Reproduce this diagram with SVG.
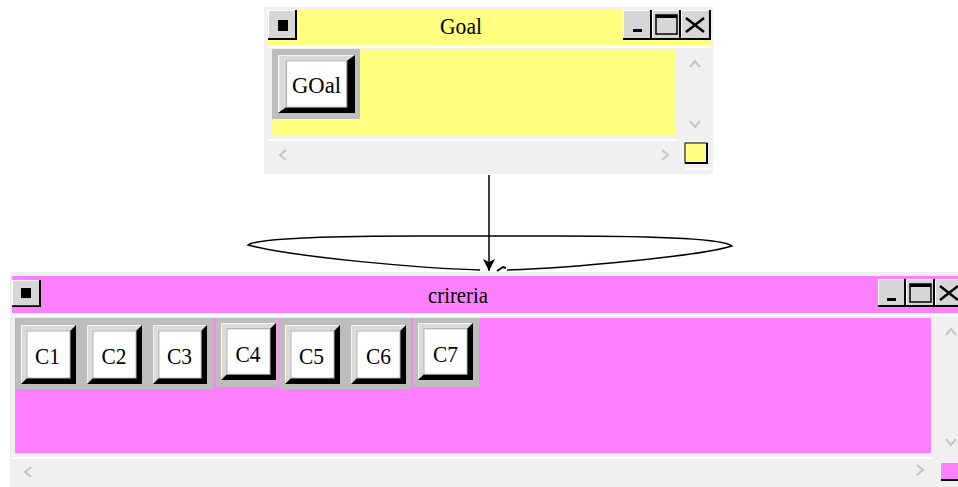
<svg xmlns="http://www.w3.org/2000/svg" xmlns:xlink="http://www.w3.org/1999/xlink" width="958" height="487" viewBox="0 0 958 487">
<style>
.win{fill:#f0f0f0}
.yel{fill:#ffff80}
.mag{fill:#ff80ff}
.sep{fill:#ffffff}
.lbl{font-family:"Liberation Serif","Times New Roman",serif;font-size:24px;fill:#000;text-anchor:middle}
.frame{fill:#bdbdbd}
.chev{fill:none;stroke:#c4c4c4;stroke-width:2}
.conn{fill:none;stroke:#000;stroke-width:1.5}
</style>
<defs>
<symbol id="btn" viewBox="0 0 55 59" preserveAspectRatio="none">
<rect x="0" y="0" width="55" height="59" fill="#000"/>
<polygon points="0,0 55,0 49,6 6,6 6,53 0,59" fill="#dadada"/>
<polyline points="0.5,58 0.5,0.5 54,0.5" fill="none" stroke="#f4f4f4" stroke-width="1"/>
<rect x="6" y="6" width="43" height="47" fill="#fff" stroke="#b4b4b4" stroke-width="1"/>
</symbol>
<symbol id="tbtn" viewBox="0 0 29 29" preserveAspectRatio="none">
<rect x="0" y="0" width="29" height="29" fill="#d6d6d6"/>
<polyline points="0.5,28 0.5,0.5 28,0.5" fill="none" stroke="#fff" stroke-width="1"/>
<polyline points="0,28 28,28 28,0" fill="none" stroke="#000" stroke-width="2"/>
</symbol>
<marker id="arr" markerWidth="14" markerHeight="14" refX="13" refY="7" orient="auto" markerUnits="userSpaceOnUse" viewBox="0 0 14 14">
<path d="M1,1 L4,7 L1,13 L13,7 Z" fill="#000"/>
</marker>
</defs>
<rect width="958" height="487" fill="#fff"/>

<g id="connectors">
<line class="conn" x1="489" y1="175" x2="489" y2="271" marker-end="url(#arr)"/>
<path class="conn" d="M480,270 C420,268 300,258 248,245 C255,240 300,236 420,236 L560,236 C680,236 725,240 732,246 C700,256 570,268 507,270"/>
<path d="M497,271 L503,267 L506,268" fill="none" stroke="#000" stroke-width="2"/>
</g>

<g id="goal">
<rect class="win" x="264" y="7" width="449" height="167"/>
<rect class="yel" x="268" y="9" width="443" height="36"/>
<use href="#tbtn" x="268" y="10" width="29" height="30"/>
<rect x="278" y="20" width="10" height="11" fill="#000"/>
<text class="lbl" x="461" y="34" textLength="42" lengthAdjust="spacingAndGlyphs">Goal</text>
<use href="#tbtn" x="623" y="10" width="29" height="30"/>
<rect x="633" y="29" width="9" height="3" fill="#000"/>
<use href="#tbtn" x="652" y="10" width="29" height="30"/>
<rect x="656" y="15" width="21" height="19" fill="none" stroke="#000" stroke-width="1.5"/>
<rect x="656" y="15" width="21" height="3" fill="#000"/>
<use href="#tbtn" x="681" y="10" width="30" height="30"/>
<path d="M686,18 L704,32 M704,18 L686,32" stroke="#000" stroke-width="2.5"/>
<rect class="sep" x="268" y="45" width="443" height="3"/>
<rect class="yel" x="272" y="49" width="404" height="87"/>
<rect class="sep" x="268" y="139" width="410" height="2"/>
<path class="chev" d="M690,67 L695,61 L700,67"/>
<path class="chev" d="M690,121 L695,127 L700,121"/>
<path class="chev" d="M286,150 L280,155 L286,160"/>
<path class="chev" d="M662,150 L668,155 L662,160"/>
<rect x="685" y="143" width="22" height="20" fill="#ffff80" stroke="#000" stroke-width="1"/>
<path d="M685,163 L707,163 L707,143" fill="none" stroke="#000" stroke-width="2"/>
<rect class="sep" x="685" y="168" width="26" height="2"/>
<g id="btn-goal">
<rect class="frame" x="272" y="49" width="88" height="70"/>
<use href="#btn" x="278" y="55" width="77" height="58"/>
<text class="lbl" x="316.5" y="93" textLength="49" lengthAdjust="spacingAndGlyphs">GOal</text>
</g>
</g>

<g id="criteria">
<rect class="win" x="10" y="272" width="948" height="215"/>
<rect class="mag" x="12" y="276" width="946" height="37"/>
<use href="#tbtn" x="12" y="280" width="29" height="27"/>
<rect x="21" y="288" width="10" height="10" fill="#000"/>
<text class="lbl" x="458" y="303" textLength="60" lengthAdjust="spacingAndGlyphs">crireria</text>
<use href="#tbtn" x="878" y="279" width="28" height="28"/>
<rect x="887" y="298" width="9" height="3" fill="#000"/>
<use href="#tbtn" x="906" y="279" width="29" height="28"/>
<rect x="910" y="284" width="21" height="18" fill="none" stroke="#000" stroke-width="1.5"/>
<rect x="910" y="284" width="21" height="3" fill="#000"/>
<use href="#tbtn" x="935" y="279" width="29" height="28"/>
<path d="M940,286 L958,300 M958,286 L940,300" stroke="#000" stroke-width="2.5"/>
<rect class="sep" x="12" y="313" width="946" height="3"/>
<rect class="mag" x="15" y="318" width="916" height="135"/>
<rect class="sep" x="12" y="457" width="920" height="2"/>
<path class="chev" d="M946,335 L951,329 L956,335"/>
<path class="chev" d="M946,439 L951,445 L956,439"/>
<path class="chev" d="M31,467 L25,472 L31,477"/>
<path class="chev" d="M917,465 L923,470 L917,475"/>
<rect x="941" y="463" width="18" height="17" fill="#ff80ff"/>
<path d="M941,480 L958,480" stroke="#000" stroke-width="2"/>
<g id="btn-c1">
<rect class="frame" x="16" y="318" width="66" height="71"/>
<use href="#btn" x="21" y="325" width="55" height="59"/>
<text class="lbl" x="47.5" y="364" textLength="25" lengthAdjust="spacingAndGlyphs">C1</text>
</g>
<g id="btn-c2">
<rect class="frame" x="82" y="318" width="66" height="71"/>
<use href="#btn" x="87" y="325" width="55" height="59"/>
<text class="lbl" x="114" y="364" textLength="25" lengthAdjust="spacingAndGlyphs">C2</text>
</g>
<g id="btn-c3">
<rect class="frame" x="148" y="318" width="65" height="71"/>
<use href="#btn" x="153" y="325" width="54" height="59"/>
<text class="lbl" x="179.5" y="364" textLength="25" lengthAdjust="spacingAndGlyphs">C3</text>
</g>
<g id="btn-c4">
<rect class="frame" x="216" y="318" width="62" height="69"/>
<use href="#btn" x="221" y="323" width="55" height="57"/>
<text class="lbl" x="248" y="362" textLength="25" lengthAdjust="spacingAndGlyphs">C4</text>
</g>
<g id="btn-c5">
<rect class="frame" x="279" y="318" width="66" height="71"/>
<use href="#btn" x="285" y="325" width="55" height="59"/>
<text class="lbl" x="311.5" y="364" textLength="25" lengthAdjust="spacingAndGlyphs">C5</text>
</g>
<g id="btn-c6">
<rect class="frame" x="345" y="318" width="66" height="71"/>
<use href="#btn" x="351" y="325" width="55" height="59"/>
<text class="lbl" x="378.5" y="364" textLength="25" lengthAdjust="spacingAndGlyphs">C6</text>
</g>
<g id="btn-c7">
<rect class="frame" x="413" y="318" width="66" height="69"/>
<use href="#btn" x="418" y="323" width="55" height="57"/>
<text class="lbl" x="445.5" y="362" textLength="25" lengthAdjust="spacingAndGlyphs">C7</text>
</g>
</g>
</svg>
